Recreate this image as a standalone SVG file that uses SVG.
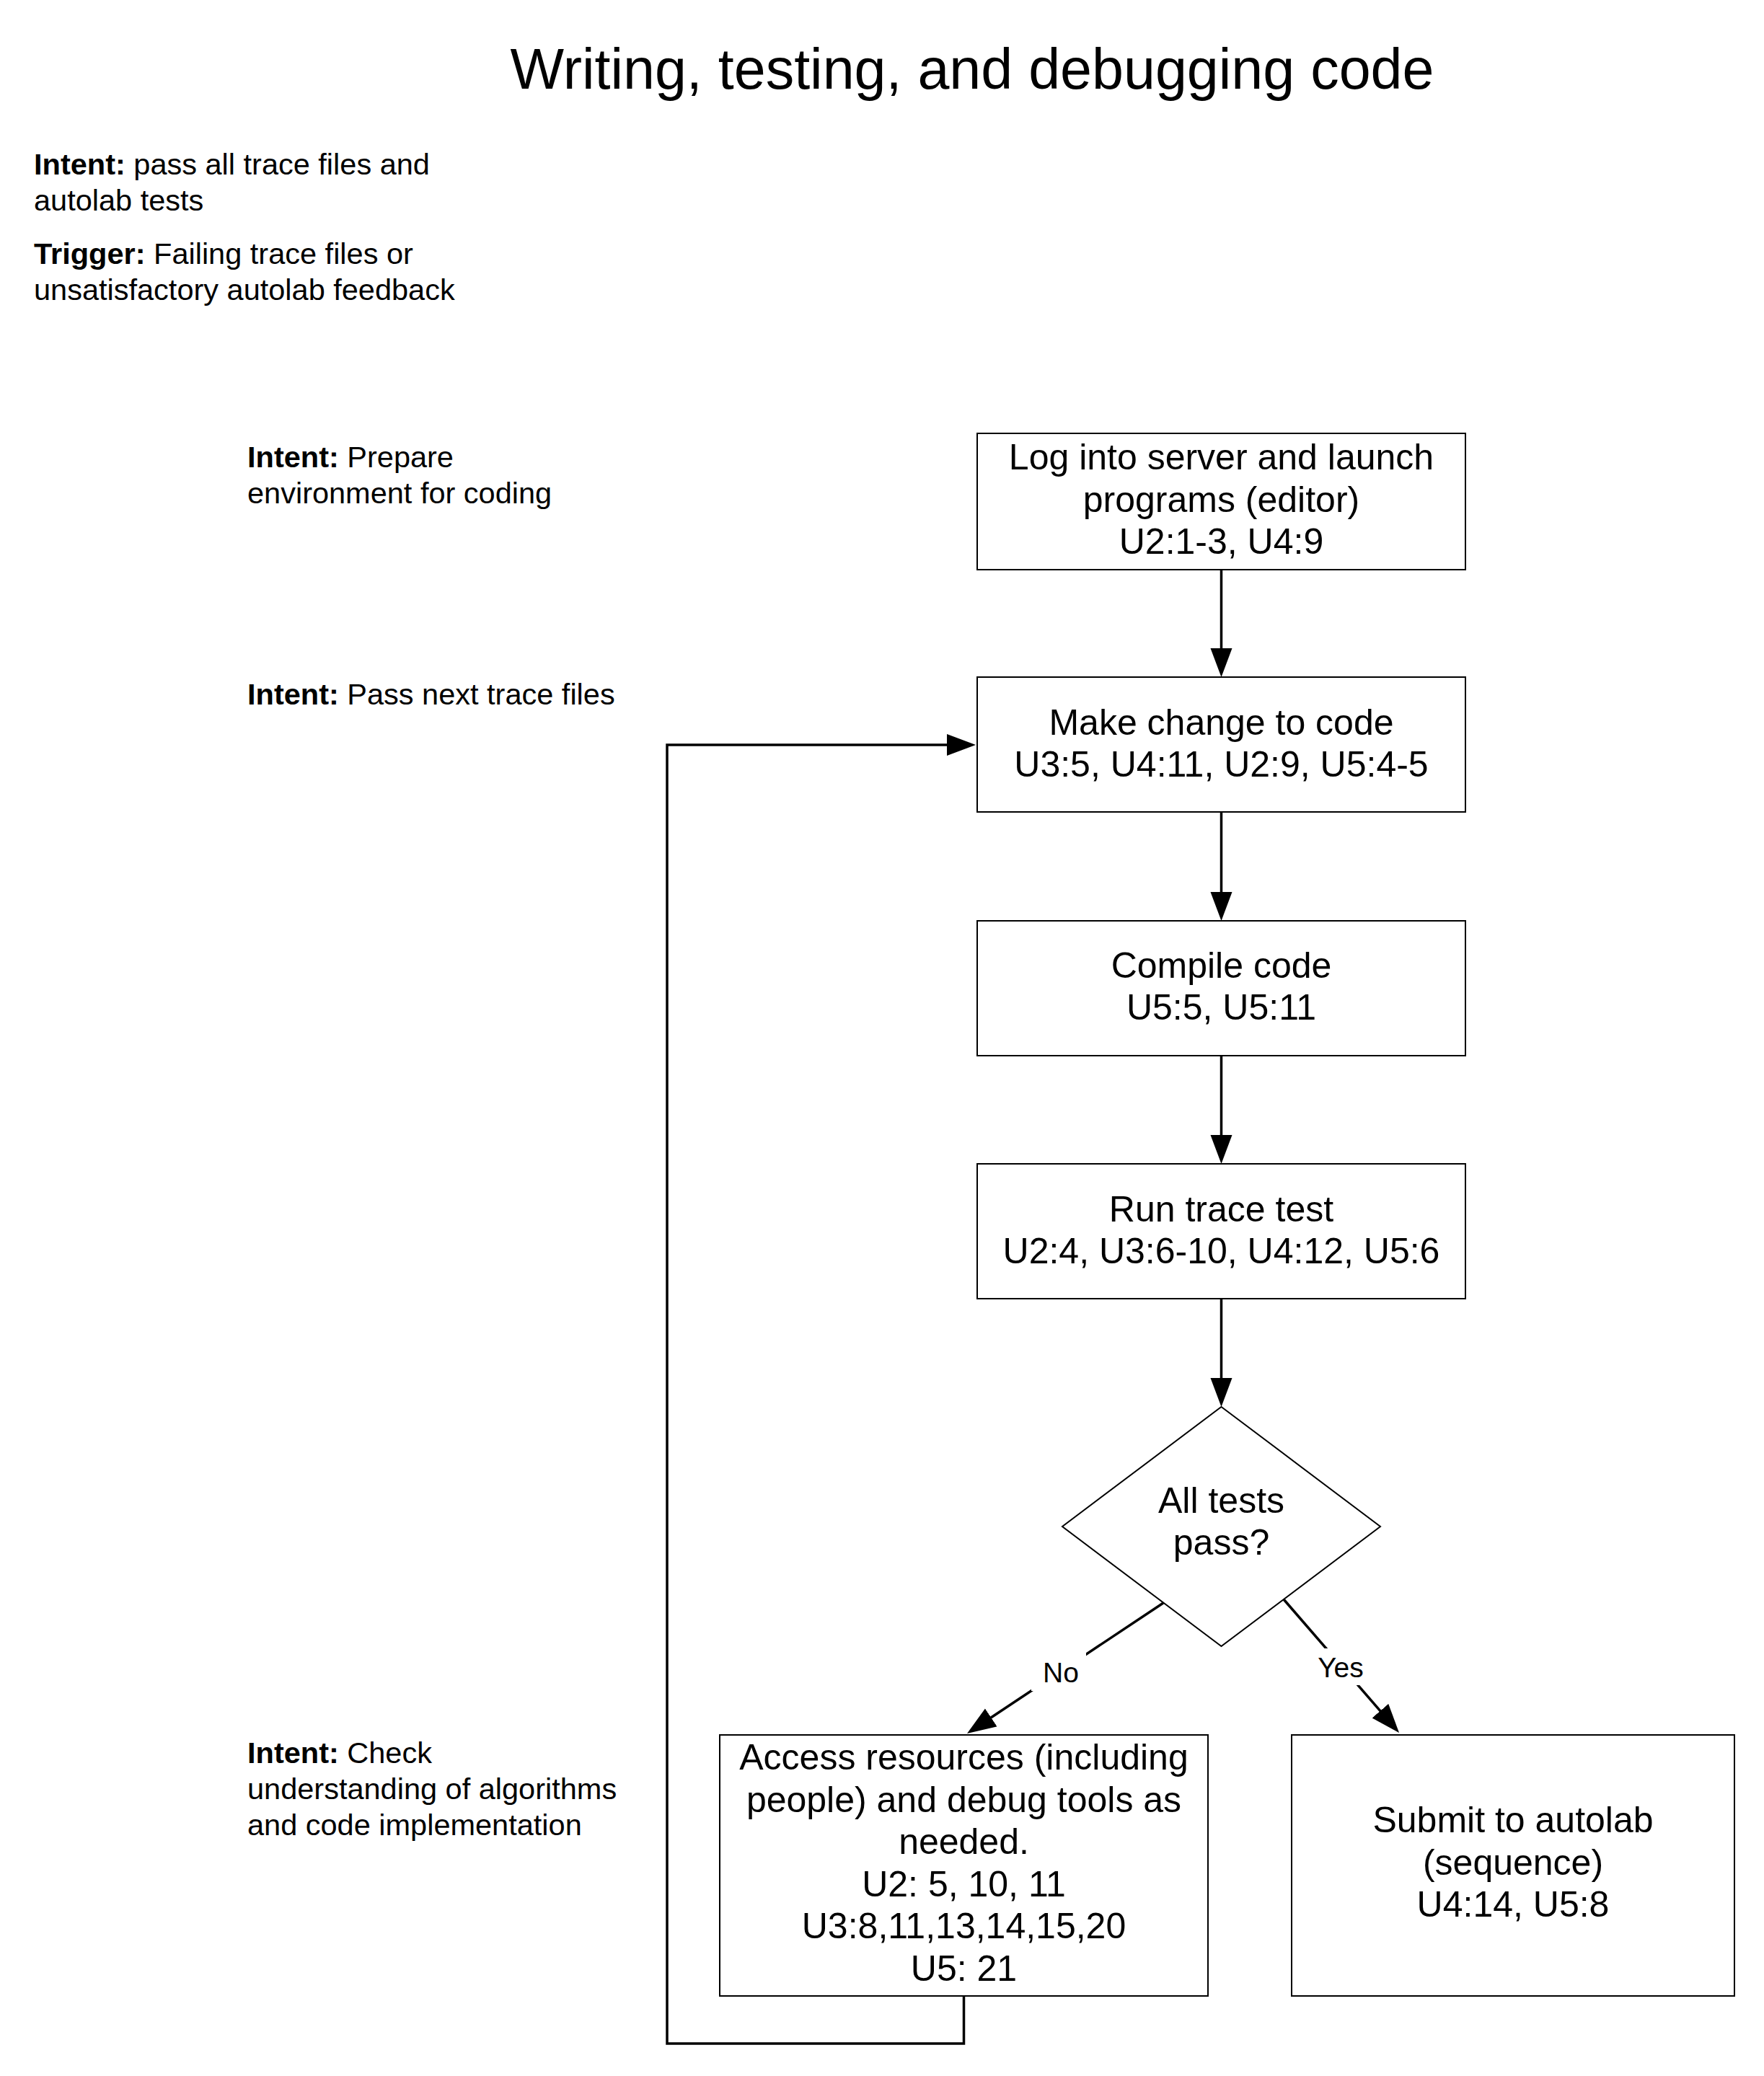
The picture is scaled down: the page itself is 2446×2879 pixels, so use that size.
<svg xmlns="http://www.w3.org/2000/svg" width="2446" height="2879" viewBox="0 0 2446 2879">
<style>
text{font-family:"Liberation Sans",Arial,Helvetica,sans-serif;fill:#000}
.title{font-size:79px}
.side{font-size:41.5px}
.b{font-weight:bold}
.nt{font-size:50px;text-anchor:middle}
.el{font-size:39px;text-anchor:middle}
.shape{fill:#fff;stroke:#000;stroke-width:2}
.conn{fill:none;stroke:#000;stroke-width:3.5}
</style>
<defs>
<marker id="ah" markerUnits="userSpaceOnUse" markerWidth="41" markerHeight="31" refX="30" refY="15" orient="auto" viewBox="0 0 41 31">
<path d="M0,0 L40,15 L0,30 Z" fill="#000"/>
</marker>
</defs>
<rect width="2446" height="2879" fill="#fff"/>

<g id="title"><text class="title" x="1348" y="123" text-anchor="middle">Writing, testing, and debugging code</text></g>

<g id="labels">
<text class="side" x="47" y="242"><tspan class="b">Intent:</tspan> pass all trace files and</text>
<text class="side" x="47" y="292">autolab tests</text>
<text class="side" x="47" y="366"><tspan class="b">Trigger:</tspan> Failing trace files or</text>
<text class="side" x="47" y="416">unsatisfactory autolab feedback</text>
<text class="side" x="343" y="648"><tspan class="b">Intent:</tspan> Prepare</text>
<text class="side" x="343" y="698">environment for coding</text>
<text class="side" x="343" y="977"><tspan class="b">Intent:</tspan> Pass next trace files</text>
<text class="side" x="343" y="2445"><tspan class="b">Intent:</tspan> Check</text>
<text class="side" x="343" y="2495">understanding of algorithms</text>
<text class="side" x="343" y="2545">and code implementation</text>
</g>

<g id="connectors">
<path class="conn" d="M1693.5,790 V929" marker-end="url(#ah)"/>
<path class="conn" d="M1693.5,1126 V1267" marker-end="url(#ah)"/>
<path class="conn" d="M1693.5,1464 V1604" marker-end="url(#ah)"/>
<path class="conn" d="M1693.5,1801 V1941" marker-end="url(#ah)"/>
<path class="conn" d="M1613,2223 L1349.3,2398.5" marker-end="url(#ah)"/>
<path class="conn" d="M1780,2218 L1933.5,2395.4" marker-end="url(#ah)"/>
<path class="conn" d="M1336.5,2768 V2834 H925 V1033 H1343" marker-end="url(#ah)"/>
<rect x="1430" y="2292" width="76" height="53" fill="#fff"/>
<text class="el" x="1471" y="2333">No</text>
<rect x="1826" y="2286" width="67" height="51" fill="#fff"/>
<text class="el" x="1859" y="2326">Yes</text>
</g>

<g id="n1">
<rect class="shape" x="1355" y="601" width="677" height="189"/>
<text class="nt" x="1693.5" y="651">Log into server and launch</text>
<text class="nt" x="1693.5" y="709.5">programs (editor)</text>
<text class="nt" x="1693.5" y="768">U2:1-3, U4:9</text>
</g>

<g id="n2">
<rect class="shape" x="1355" y="939" width="677" height="187"/>
<text class="nt" x="1693.5" y="1019">Make change to code</text>
<text class="nt" x="1693.5" y="1077">U3:5, U4:11, U2:9, U5:4-5</text>
</g>

<g id="n3">
<rect class="shape" x="1355" y="1277" width="677" height="187"/>
<text class="nt" x="1693.5" y="1356">Compile code</text>
<text class="nt" x="1693.5" y="1414">U5:5, U5:11</text>
</g>

<g id="n4">
<rect class="shape" x="1355" y="1614" width="677" height="187"/>
<text class="nt" x="1693.5" y="1694">Run trace test</text>
<text class="nt" x="1693.5" y="1752">U2:4, U3:6-10, U4:12, U5:6</text>
</g>

<g id="n5">
<polygon class="shape" points="1693.5,1951 1914,2117 1693.5,2283 1473,2117"/>
<text class="nt" x="1693.5" y="2098">All tests</text>
<text class="nt" x="1693.5" y="2156">pass?</text>
</g>

<g id="n6">
<rect class="shape" x="998" y="2406" width="677" height="362"/>
<text class="nt" x="1336.5" y="2454">Access resources (including</text>
<text class="nt" x="1336.5" y="2512.5">people) and debug tools as</text>
<text class="nt" x="1336.5" y="2571">needed.</text>
<text class="nt" x="1336.5" y="2629.5">U2: 5, 10, 11</text>
<text class="nt" x="1336.5" y="2688">U3:8,11,13,14,15,20</text>
<text class="nt" x="1336.5" y="2746.5">U5: 21</text>
</g>

<g id="n7">
<rect class="shape" x="1791" y="2406" width="614" height="362"/>
<text class="nt" x="2098" y="2541">Submit to autolab</text>
<text class="nt" x="2098" y="2599.5">(sequence)</text>
<text class="nt" x="2098" y="2658">U4:14, U5:8</text>
</g>
</svg>
